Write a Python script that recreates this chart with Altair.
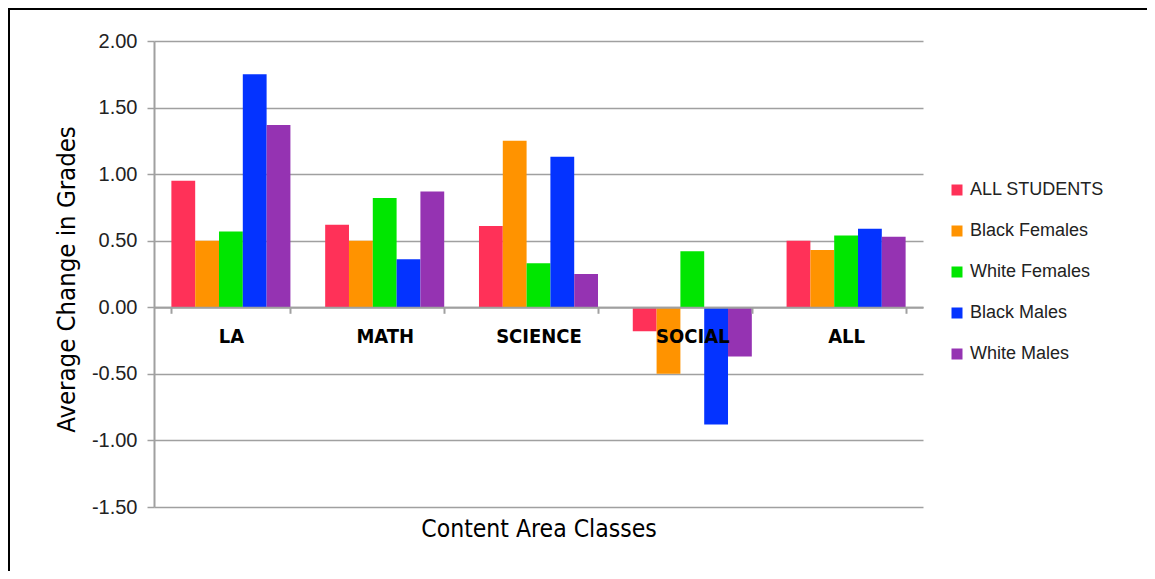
import altair as alt
import pandas as pd

categories = ["LA", "MATH", "SCIENCE", "SOCIAL", "ALL"]
series = ["ALL STUDENTS", "Black Females", "White Females", "Black Males", "White Males"]
colors = ["#FF3158", "#FF9300", "#00E600", "#0433FF", "#9533B2"]

all_students = [0.95, 0.62, 0.61, -0.18, 0.50]
black_females = [0.50, 0.50, 1.25, -0.50, 0.43]
white_females = [0.57, 0.82, 0.33, 0.42, 0.54]
black_males = [1.75, 0.36, 1.13, -0.88, 0.59]
white_males = [1.37, 0.87, 0.25, -0.37, 0.53]

y_ticks = [-1.5, -1.0, -0.5, 0.0, 0.5, 1.0, 1.5, 2.0]

rows = []
for name, vals in zip(series, [all_students, black_females, white_females, black_males, white_males]):
    for cat, v in zip(categories, vals):
        rows.append({"Category": cat, "Series": name, "Value": v})
df = pd.DataFrame(rows)

W, H = 769, 466
narrow = "Liberation Sans Narrow, DejaVu Sans Condensed, Liberation Sans, Arial"

bars = alt.Chart(df).mark_bar().encode(
    x=alt.X(
        "Category:N",
        sort=categories,
        scale=alt.Scale(paddingInner=0.226, paddingOuter=0.113),
        axis=alt.Axis(
            title="Content Area Classes",
            offset=-H * 1.5 / 3.5,
            labelAngle=0,
            labelFont=narrow,
            labelFontSize=20,
            labelFontWeight="bold",
            labelColor="#000000",
            labelPadding=13,
            tickBand="extent",
            tickSize=6,
            tickColor="#a0a0a0",
            tickWidth=2,
            domainColor="#a0a0a0",
            domainWidth=2,
            titleFont=narrow,
            titleFontSize=24.5,
            titleFontWeight="normal",
            titleColor="#000000",
            titleY=222,
            titleBaseline="middle",
            zindex=1,
        ),
    ),
    xOffset=alt.XOffset("Series:N", sort=series, scale=alt.Scale(paddingInner=0, paddingOuter=0)),
    y=alt.Y(
        "Value:Q",
        scale=alt.Scale(domain=[-1.5, 2.0], nice=False, zero=False),
        axis=alt.Axis(
            title="Average Change in Grades",
            values=y_ticks,
            labelExpr="replace(format(datum.value, '.2f'), '\u2212', '-')",
            labelFont="Liberation Sans, Arial",
            labelFontSize=20,
            labelColor="#222222",
            labelPadding=10,
            tickSize=7,
            tickColor="#a0a0a0",
            tickWidth=1.5,
            domainColor="#a0a0a0",
            domainWidth=2,
            gridColor="#a0a0a0",
            gridWidth=1.5,
            titleFont=narrow,
            titleFontSize=25.5,
            titleFontWeight="normal",
            titleColor="#000000",
            titleX=-88,
            titleY=238,
            titleAlign="center",
            titleBaseline="middle",
        ),
    ),
    color=alt.Color(
        "Series:N",
        sort=series,
        scale=alt.Scale(domain=series, range=colors),
        legend=alt.Legend(
            title=None,
            orient="none",
            legendX=794,
            legendY=140,
            symbolType="square",
            symbolSize=121,
            symbolStrokeWidth=0,
            symbolOpacity=1,
            labelFont="Liberation Sans, Arial",
            labelFontSize=18,
            labelColor="#222222",
            labelOffset=4,
            rowPadding=23,
            padding=0,
        ),
    ),
)

# outer frame of the picture: only its top and left edges fall inside the view
frame_top = alt.Chart(alt.Data(values=[{}])).mark_rule(
    color="#000000", strokeWidth=2
).encode(x=alt.value(-146), x2=alt.value(1300), y=alt.value(-32))
frame_left = alt.Chart(alt.Data(values=[{}])).mark_rule(
    color="#000000", strokeWidth=2
).encode(x=alt.value(-145), y=alt.value(-33), y2=alt.value(800))

chart = alt.layer(bars, frame_top, frame_left).properties(
    width=W,
    height=H,
    padding={"left": 146, "top": 33, "right": 224, "bottom": 64},
    autosize=alt.AutoSizeParams(type="none"),
).configure_view(stroke=None)

chart.save("out.html", embed_options={"renderer": "svg", "actions": False})
